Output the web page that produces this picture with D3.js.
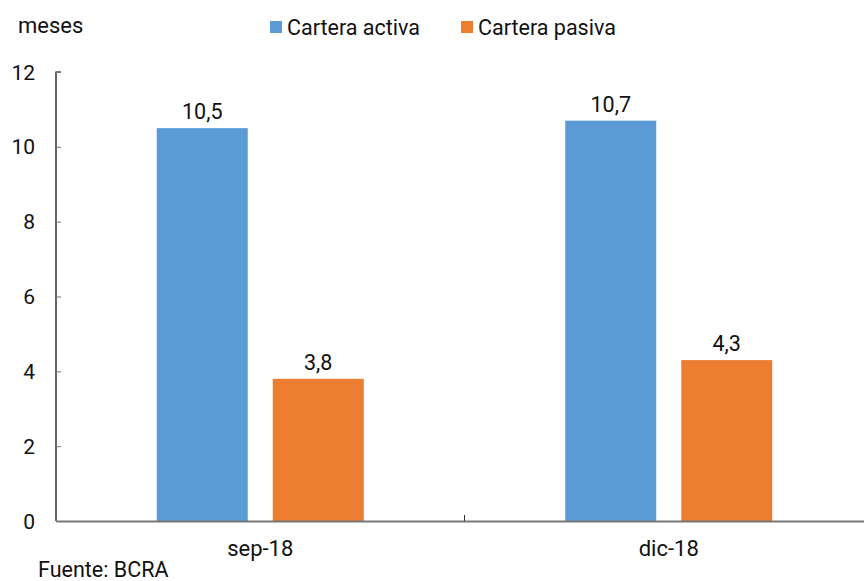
<!DOCTYPE html>
<html>
<head>
<meta charset="utf-8">
<script src="https://cdn.jsdelivr.net/npm/d3@7"></script>
<style>
    body { margin: 0; background: #fff; }
    svg text { font-family: Roboto, "Noto Sans", sans-serif; fill: #111; }
</style>
</head>
<body>
<div id="chart"></div>
<script>
/*global d3*/
var categories = ["sep-18", "dic-18"];
var seriesNames = ["Cartera activa", "Cartera pasiva"];
var activa = [10.5, 10.7];
var pasiva = [3.8, 4.3];
var yTicks = [0, 2, 4, 6, 8, 10, 12];
var colors = ["#5B9BD5", "#ED7D31"];

(function () {
    "use strict";
    var width = 864;
    var height = 581;
    var margin = {top: 72, left: 56, bottom: 60};
    var plotRight = 873;
    var plotBottom = 521;

    var svg = d3.select("#chart").append("svg")
        .attr("width", width)
        .attr("height", height);

    var x = d3.scaleBand().domain(categories).range([margin.left, plotRight]);
    var xInner = d3.scaleBand().domain(seriesNames).range([0, x.bandwidth()])
        .paddingInner(0.2155).paddingOuter(0.8686);
    var y = d3.scaleLinear().domain([0, 12]).range([plotBottom, margin.top]);

    var rows = categories.map(function (c, i) {
        return {cat: c, values: [activa[i], pasiva[i]]};
    });

    // bars
    var groups = svg.selectAll(".grp").data(rows).enter().append("g")
        .attr("class", "grp")
        .attr("transform", function (d) { return "translate(" + x(d.cat) + ",0)"; });

    groups.selectAll("rect").data(function (d) {
        return d.values.map(function (v, j) { return {name: seriesNames[j], value: v, j: j}; });
    }).enter().append("rect")
        .attr("x", function (d) { return xInner(d.name); })
        .attr("y", function (d) { return y(d.value); })
        .attr("width", xInner.bandwidth())
        .attr("height", function (d) { return plotBottom - y(d.value); })
        .attr("fill", function (d) { return colors[d.j]; });

    groups.selectAll(".lbl").data(function (d) {
        return d.values.map(function (v, j) { return {name: seriesNames[j], value: v}; });
    }).enter().append("text")
        .attr("class", "lbl")
        .attr("x", function (d) { return xInner(d.name) + xInner.bandwidth() / 2; })
        .attr("y", function (d) { return y(d.value) - 9; })
        .attr("text-anchor", "middle")
        .style("font-size", "21.5px")
        .text(function (d) { return d3.format(".1f")(d.value).replace(".", ","); });

    // y axis
    var yAxis = svg.append("g")
        .attr("transform", "translate(" + margin.left + ",0)")
        .call(d3.axisRight(y).tickValues(yTicks).tickSize(5).tickFormat(""));
    yAxis.select(".domain").attr("stroke", "#000").attr("stroke-width", 1.2)
        .attr("d", "M5," + margin.top + "H0V" + plotBottom);
    yAxis.selectAll(".tick line").attr("stroke", "#777");
    svg.selectAll(".ylbl").data(yTicks).enter().append("text")
        .attr("class", "ylbl")
        .attr("x", 35)
        .attr("y", function (d) { return y(d) + 7.5; })
        .attr("text-anchor", "end")
        .style("font-size", "21px")
        .text(function (d) { return d; });

    // x axis
    var xAxis = svg.append("g")
        .attr("transform", "translate(0," + plotBottom + ")")
        .call(d3.axisBottom(x).tickSize(0).tickFormat(""));
    xAxis.select(".domain").attr("stroke", "#777").attr("stroke-width", 2);
    svg.append("line")
        .attr("x1", x("dic-18")).attr("x2", x("dic-18"))
        .attr("y1", plotBottom).attr("y2", plotBottom - 6)
        .attr("stroke", "#333");
    svg.selectAll(".xlbl").data(categories).enter().append("text")
        .attr("class", "xlbl")
        .attr("x", function (d) { return x(d) + x.bandwidth() / 2; })
        .attr("y", 556)
        .attr("text-anchor", "middle")
        .style("font-size", "22px")
        .text(function (d) { return d; });

    // unit + source
    svg.append("text").attr("x", 18).attr("y", 33).style("font-size", "22px").text("meses");
    svg.append("text").attr("x", 38).attr("y", 577).style("font-size", "21.5px").text("Fuente: BCRA");

    // legend
    var legX = [270, 461];
    var leg = svg.selectAll(".leg").data(seriesNames).enter().append("g")
        .attr("class", "leg")
        .attr("transform", function (d, i) { return "translate(" + legX[i] + ",21)"; });
    leg.append("rect").attr("width", 12).attr("height", 12)
        .attr("fill", function (d, i) { return colors[i]; });
    leg.append("text").attr("x", 17).attr("y", 13.5).style("font-size", "21.5px")
        .text(function (d) { return d; });
}());
</script>
</body>
</html>
